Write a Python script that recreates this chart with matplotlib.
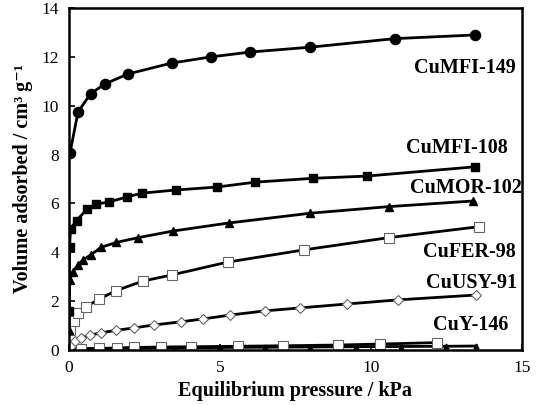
#!/usr/bin/env python3
"""Adsorption isotherms of Cu-exchanged zeolites."""

import matplotlib

matplotlib.use("Agg")
from matplotlib import pyplot as plt

SERIF = ["Liberation Serif", "DejaVu Serif"]

# CuMFI-149 (filled circles)
mfi149_p = [0.03, 0.3, 0.72, 1.2, 1.95, 3.4, 4.7, 6.0, 8.0, 10.8, 13.45]
mfi149_v = [8.05, 9.75, 10.5, 10.9, 11.3, 11.75, 12.0, 12.2, 12.4, 12.75, 12.9]

# CuMFI-108 (filled squares)
mfi108_p = [0.01, 0.02, 0.05, 0.25, 0.6, 0.9, 1.33, 1.93, 2.42, 3.54, 4.9, 6.16, 8.1, 9.87, 13.45]
mfi108_v = [1.6, 4.2, 4.95, 5.3, 5.77, 5.97, 6.06, 6.27, 6.42, 6.55, 6.67, 6.87, 7.03, 7.12, 7.5]

# CuMOR-102 (filled triangles)
mor102_p = [0.01, 0.02, 0.13, 0.3, 0.46, 0.73, 1.06, 1.56, 2.3, 3.45, 5.3, 8.0, 10.6, 13.4]
mor102_v = [0.8, 2.85, 3.2, 3.48, 3.68, 3.9, 4.2, 4.4, 4.6, 4.87, 5.2, 5.6, 5.87, 6.1]

# CuFER-98 (open squares)
fer98_p = [0.02, 0.15, 0.3, 0.56, 1.0, 1.56, 2.45, 3.4, 5.27, 7.8, 10.6, 13.6]
fer98_v = [0.8, 1.2, 1.5, 1.77, 2.08, 2.43, 2.82, 3.07, 3.6, 4.1, 4.6, 5.05]

# CuUSY-91 (open diamonds)
usy91_p = [0.05, 0.2, 0.4, 0.7, 1.05, 1.55, 2.15, 2.8, 3.7, 4.45, 5.35, 6.5, 7.65, 9.2, 10.9, 13.5]
usy91_v = [0.15, 0.35, 0.5, 0.6, 0.7, 0.8, 0.9, 1.02, 1.15, 1.27, 1.43, 1.6, 1.72, 1.88, 2.05, 2.25]

# CuY-146 (open squares, near zero)
y146_p = [0.4, 1.0, 1.6, 2.15, 3.05, 4.04, 5.6, 7.1, 8.9, 10.3, 12.2]
y146_v = [0.04, 0.06, 0.08, 0.1, 0.12, 0.13, 0.15, 0.17, 0.2, 0.24, 0.3]

# unlabelled black trace lying on the axis
base_p = [0.02, 1.0, 2.0, 3.5, 5.0, 6.5, 8.0, 9.5, 11.0, 12.5, 13.5]
base_v = [0.05, 0.06, 0.07, 0.08, 0.1, 0.11, 0.12, 0.13, 0.14, 0.15, 0.16]

labels = ["CuMFI-149", "CuMFI-108", "CuMOR-102", "CuFER-98", "CuUSY-91", "CuY-146"]
label_pos = [(14.8, 11.55), (14.55, 8.27), (15.0, 6.63), (14.8, 4.0), (14.85, 2.74), (14.55, 1.02)]

fig = plt.figure(figsize=(5.39, 4.05), dpi=100)
ax = fig.add_axes([0.128, 0.136, 0.84, 0.844])

line = dict(color="black", lw=2.0)
open_edge = dict(mfc="white", mec="#666666", mew=0.8)
ax.plot(base_p, base_v, marker="^", ms=3.5, mfc="black", mec="black", **line)
ax.plot(y146_p, y146_v, marker="s", ms=6.5, **open_edge, **line)
ax.plot(usy91_p, usy91_v, marker="D", ms=5.5, **open_edge, **line)
ax.plot(fer98_p, fer98_v, marker="s", ms=7, **open_edge, **line)
ax.plot(mor102_p, mor102_v, marker="^", ms=5.5, mfc="black", mec="black", **line)
ax.plot(mfi108_p, mfi108_v, marker="s", ms=6, mfc="black", mec="black", **line)
ax.plot(mfi149_p, mfi149_v, marker="o", ms=7.3, mfc="black", mec="black", **line)

for text, (x, y) in zip(labels, label_pos):
    ax.text(x, y, text, ha="right", va="center", fontsize=14.5,
            fontweight="bold", family=SERIF)

ax.set_xlim(0, 15)
ax.set_ylim(0, 14)
ax.set_xticks([0, 5, 10, 15])
ax.set_yticks(range(0, 15, 2))
ax.tick_params(direction="in", length=4, width=1.2, labelsize=12.5, pad=7)
for lab in ax.get_xticklabels() + ax.get_yticklabels():
    lab.set_family(SERIF)
for sp in ax.spines.values():
    sp.set_linewidth(1.8)

ax.set_xlabel("Equilibrium pressure / kPa", fontsize=14.5, fontweight="bold",
              family=SERIF, labelpad=4)
ax.set_ylabel("Volume adsorbed / cm³ g⁻¹", fontsize=14.5, fontweight="bold",
              family=SERIF, labelpad=6)

fig.savefig("out.png", dpi=100)
